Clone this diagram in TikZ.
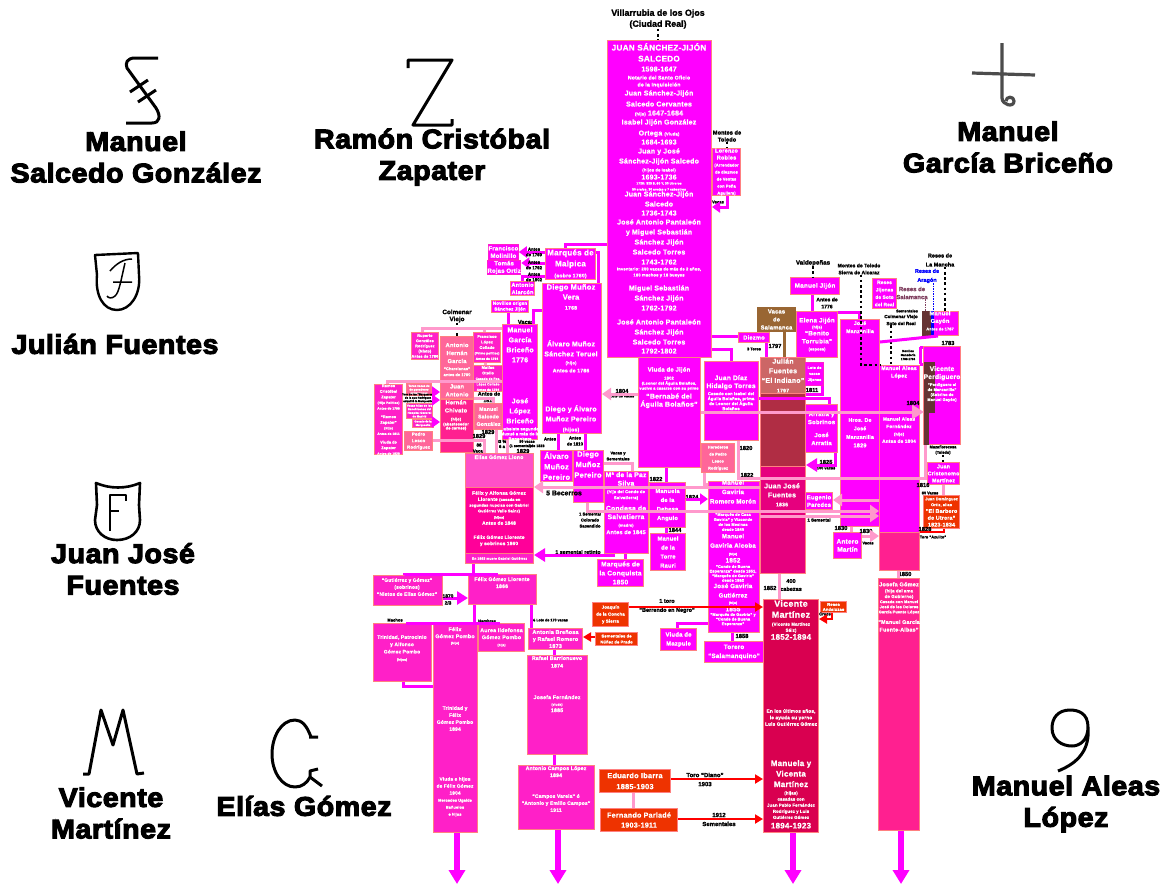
\documentclass[tikz,border=0pt]{standalone}
\usepackage{fontspec}
\setmainfont{Liberation Sans}
\newfontfamily\boxfam{Liberation Sans Bold}[Ligatures=TeX,LetterSpace=3,FakeBold=0.8]
\newfontfamily\notefam{Liberation Sans Bold}[Ligatures=TeX,FakeBold=1.5,Scale=1.15]
\newfontfamily\blackfam{Liberation Sans Bold}[Ligatures=TeX,FakeBold=4,FakeStretch=1.06,LetterSpace=2]
\usetikzlibrary{arrows.meta}
\definecolor{fame}{HTML}{FF00FF}
\definecolor{edgecol}{HTML}{FF8080}
\definecolor{rosa}{HTML}{FF99CC}
\definecolor{salmon}{HTML}{FF6699}
\definecolor{deep}{HTML}{FF20C8}
\definecolor{felix}{HTML}{FF0099}
\definecolor{elias}{HTML}{FF50C8}
\definecolor{fuentes}{HTML}{E6007E}
\definecolor{vicente}{HTML}{D90050}
\definecolor{josefa}{HTML}{FF2090}
\definecolor{brasa}{HTML}{EE3300}
\definecolor{vaca}{HTML}{996633}
\definecolor{julian}{HTML}{CC6666}
\definecolor{granate}{HTML}{B02D44}
\definecolor{oscuro}{HTML}{663333}
\definecolor{salam}{HTML}{804060}
\newcommand{\fa}{\fontsize{8.2}{10}\selectfont}
\newcommand{\fb}{\fontsize{7}{10}\selectfont}
\newcommand{\fc}{\fontsize{5.2}{10}\selectfont}
\newcommand{\fd}{\fontsize{4.2}{10}\selectfont}
\newcommand{\ff}{\fontsize{3.9}{10}\selectfont}
\newcommand{\fe}{\fontsize{3.2}{10}\selectfont}
\begin{document}
\begin{tikzpicture}[
        x=1pt, y=-1pt,
        wh/.style 2 args={minimum width=#1pt, minimum height=#2pt},
        bbox/.style={rectangle, anchor=north west, draw=edgecol, line width=1pt, inner sep=0pt, align=center, text=white, font=\boxfam\fontsize{7}{10}\selectfont},
        mbox/.style={bbox, fill=fame},
        mmbox/.style={bbox, fill=fame, draw=deep},
        sbox/.style={bbox, fill=salmon},
        dbox/.style={bbox, fill=deep},
        rbox/.style={bbox, fill=brasa},
        lab/.style={anchor=north, inner sep=0pt, align=center, text=white, font=\boxfam\fontsize{7}{10}\selectfont},
        note/.style={inner sep=0pt, align=center, text=black, font=\notefam\fontsize{5}{7}\selectfont},
        big/.style={inner sep=0pt, align=center, text=black, font=\blackfam\fontsize{27}{31.5}\selectfont},
        brand/.style={draw=black, line width=3pt, line join=round},
        fameline/.style={draw=fame, line width=3pt},
        rosaline/.style={draw=rosa, line width=3pt},
        famearrow/.style={fameline, -{Triangle[length=8pt,width=11pt]}},
        rosaarrow/.style={rosaline, -{Triangle[length=9pt,width=12pt]}},
        redarrow/.style={draw=red, line width=2.4pt, -{Triangle[length=8pt,width=9pt]}},
        bigarrow/.style={draw=fame, line width=6.5pt, -{Triangle[length=14pt,width=16pt]}},
        dotline/.style={draw=black, line width=2.6pt, dash pattern=on 2.6pt off 2.6pt},
    ]
    \path[fill=white, use as bounding box] (0,0) rectangle (1169,884);

    \node[big] (NameSalcedo) at (136,157) {Manuel\\Salcedo González};
    \node[big] (NameZapater) at (432,157) {Ramón Cristóbal\\Zapater};
    \node[big] (NameBriceno) at (1008,147) {Manuel\\García Briceño};
    \node[big] (NameJulian) at (115,344) {Julián Fuentes};
    \node[big] (NameJuanJose) at (123,569) {Juan José\\Fuentes};
    \node[big] (NameVicente) at (111,813) {Vicente\\Martínez};
    \node[big] (NameElias) at (304,806) {Elías Gómez};
    \node[big] (NameAleas) at (1066,804) {Manuel Aleas\\López};

    \draw[brand] (158,58) -- (135,58) .. controls (127,58) and (125,63) .. (127,68) -- (156,108) .. controls (161,116) and (160,123) .. (152,123) -- (126,123);
    \draw[brand] (130,92) -- (148,80) (138,102) -- (156,90);
    \draw[brand] (408,68) -- (408,60) -- (452,60) -- (413,125) -- (452,125) -- (452,119);
    \draw[brand, draw=black!70, line width=3.2pt] (972,73) -- (1035,75) (1002,43) -- (1002,98) .. controls (1002,105) and (1014,108) .. (1014,101) .. controls (1014,96) and (1006,96) .. (1006,101);
    \draw[brand, line width=2.4pt] (95,255) -- (138,253) -- (139,275) .. controls (141,295) and (130,310) .. (117,310) .. controls (103,310) and (95,295) .. (97,275) -- cycle;
    \draw[draw=black, line width=1.5pt] (110,271) .. controls (116,264) and (123,259) .. (132,259) (125,263) .. controls (121,280) and (119,293) .. (115,296) .. controls (112,299) and (108,298) .. (107,296) (113,282) -- (132,282);
    \draw[brand, line width=2.6pt] (96,483) .. controls (110,489) and (126,489) .. (140,483) -- (139,505) -- (140,520) .. controls (140,532) and (130,540) .. (117,540) .. controls (105,540) and (95,532) .. (95,520) -- (97,505) -- cycle;
    \draw[brand, line width=2pt] (110,531) -- (110,495) -- (126,495) -- (126,501) (110,511) -- (119,511);
    \draw[brand] (83,774) -- (89,774) -- (101,710) -- (113,745) -- (123,710) -- (137,774) -- (144,773);
    \draw[brand] (318,737) -- (309,737) (311,737) .. controls (307,726) and (302,720) .. (295,720) .. controls (281,720) and (272,737) .. (272,754) .. controls (272,772) and (282,787) .. (295,787) .. controls (302,787) and (307,783) .. (310,777) -- (322,786) (310,777) -- (310,771) -- (318,769);
    \draw[brand] (1088,727) .. controls (1088,713) and (1078,710) .. (1070,710) .. controls (1058,710) and (1052,718) .. (1052,728) .. controls (1052,740) and (1062,746) .. (1072,746) .. controls (1080,746) and (1088,740) .. (1088,727) .. controls (1090,750) and (1078,763) .. (1058,771);

    \node[mbox, wh={104}{317}] (JuanSanchez) at (607,40) {};
    \node[lab] (JuanSanchezText) at (659,43) {{\fa JUAN SÁNCHEZ-JIJÓN}\\[1pt]{\fa SALCEDO}\\{\fb 1598-1647}\\[-2pt]{\fc Notario del Santo Oficio}\\[-3pt]{\fc de la Inquisición}\\[-1pt]Juan Sánchez-Jijón\\[1pt]Salcedo Cervantes\\[-1pt]{\fd (hijo)} 1647-1684\\[-1pt]Isabel Jijón González\\[1pt]Ortega {\fd (Viuda)}\\[-1pt]1684-1693\\[-1pt]Juan y José\\Sánchez-Jijón Salcedo\\[-2pt]{\fd (hijos de Isabel)}\\[-2pt]1693-1736\\[-5pt]{\fe 1726: 323 \$, 60 Y, 30 Utreros}\\[-4pt]{\fe 30 erales, 30 anejas y 7 cabestros}\\[-4pt]Juan Sánchez-Jijón\\Salcedo\\[-1pt]1736-1743\\[-1pt]José Antonio Pantaleón\\y Miguel Sebastián\\Sánchez Jijón\\Salcedo Torres\\1743-1762\\[-4pt]{\fd Inventario: 200 vacas de más de 2 años,}\\[-4pt]{\fd 160 machos y 16 bueyes}\\[4pt]Miguel Sebastián\\Sánchez Jijón\\1762-1792\\[4pt]José Antonio Pantaleón\\Sánchez Jijón\\Salcedo Torres\\[-1pt]1792-1802};
    \node[note, font=\notefam\fontsize{7.7}{11}\selectfont] (Villarrubia) at (658,19) {Villarrubia de los Ojos\\(Ciudad Real)};
    \node[mbox, wh={28}{47}, font=\boxfam\fontsize{4}{7}\selectfont] (Lorenzo) at (712,148) {{\fontsize{5.6}{7}\selectfont Lorenzo}\\{\fontsize{5.6}{7}\selectfont Robles}\\(Arrendador\\de diezmos\\de Ventas\\con Peña\\Aguilera)};
    \node[note] (Montes) at (727,136) {Montes de\\Toledo};
    \node[note, font=\notefam\fontsize{3.6}{5}\selectfont] (LorenzoVacas) at (718,202) {Vacas};

    \node[mbox, wh={50}{31}, font=\boxfam\fontsize{8}{11}\selectfont] (Malpica) at (545,248) {Marqués de\\Malpica\\{\fc (sobre 1760)}};
    \node[mmbox, wh={29}{15}, font=\boxfam\fontsize{6}{7.4}\selectfont] (Molinillo) at (488,244) {Francisco\\Molinillo};
    \node[mmbox, wh={31}{14}, font=\boxfam\fontsize{6}{7.4}\selectfont] (Tomas) at (487,260) {Tomás\\Rojas Ortiz};
    \node[mbox, wh={24}{14}, font=\boxfam\fontsize{5.6}{7.4}\selectfont] (Alarcon) at (510,281) {Antonio\\Alarcón};
    \node[mbox, wh={37}{12}, font=\boxfam\fontsize{4.5}{5.8}\selectfont] (Novillos) at (491,300) {Novillos origen\\Sánchez Jijón};

    \node[mbox, wh={59}{150}] (DiegoVera) at (542,283) {};
    \node[lab, font=\boxfam\fontsize{7.5}{10}\selectfont] (DiegoVeraText) at (571,284) {Diego Muñoz\\Vera\\{\fc 1768}};
    \node[lab] (AlvaroText) at (571,340) {Álvaro Muñoz\\Sánchez Teruel\\[-2pt]{\fd (hijo)}\\[-2pt]{\fc Antes de 1786}};
    \node[lab] (DiegoAlvaroText) at (571,405) {Diego y Álvaro\\Muñoz Pereiro\\{\fc (hijos)}};
    \node[note] (VacasManuel) at (526,322) {Vacas};
    \node[mbox, wh={35}{115}] (ManuelGarcia) at (502,324) {};
    \node[lab] (ManuelGarciaText) at (520,327) {Manuel\\García\\Briceño\\1776};
    \node[lab] (JoseLopezText) at (520,398) {José\\López\\Briceño\\[-3pt]{\fd (subsiste segundo)}\\[-5pt]{\fd Muxué a más de la}\\[-5pt]{\fd Bonanbera}};
    \node[note, font=\notefam\fontsize{5.5}{7}\selectfont] (Colmenar) at (457,316) {Colmenar\\Viejo};

    \node[dbox, wh={26}{27}, font=\boxfam\fontsize{3.8}{5.2}\selectfont] (Ruperto) at (411,332) {Ruperto\\Gonzáles\\Rodríguez\\(Nieto)\\Antes de 1780};
    \node[sbox, wh={33}{46}, font=\boxfam\fontsize{5.8}{8}\selectfont] (Antonio) at (440,336) {Antonio\\Hernán\\García\\[-1pt]{\ff ``Charelanas''}\\[-2pt]{\ff antes de 1790}};
    \node[sbox, wh={33}{16}, font=\boxfam\fontsize{5.8}{8}\selectfont] (JuanAntonio) at (440,382) {Juan\\Antonio};
    \node[bbox, fill=josefa, wh={33}{53}] (Chivato) at (440,399) {};
    \node[lab, font=\boxfam\fontsize{5.8}{8}\selectfont] (ChivatoText) at (456,400) {Hernán\\Chivato\\{\ff (hijo)}\\[-3pt]{\ff (abastecedor}\\[-4pt]{\ff de carnes)}};
    \node[dbox, wh={27}{30}, font=\boxfam\fontsize{3.9}{5.5}\selectfont] (Francisco) at (473,332) {Francisco\\López\\Collado\\{\fe (Primo político)}\\{\fe Antes de 1794}};
    \node[dbox, wh={29}{26}, font=\boxfam\fontsize{3.9}{5.5}\selectfont] (Matias) at (473,365) {Matías\\Otello\\{\fe Casado de Fco.}\\{\fe López Collado}\\{\fe Antes de 1794}};
    \node[sbox, wh={28}{26}, font=\boxfam\fontsize{5.2}{7.5}\selectfont] (Salcedo) at (474,403) {Manuel\\Salcedo\\González};
    \node[dbox, wh={28}{66}, font=\boxfam\fontsize{3.8}{5.6}\selectfont] (Ramos) at (374,384) {Ramos\\Cristóbal\\Zapater\\{\fe (Hijo Político)}\\{\fe Antes de 1795}\\[3pt]``Ramos\\Zapater''\\{\fe (Hijo)}\\{\fe Antes de 1811}\\[3pt]Viuda de\\Zapater\\{\fe Antes de 1826}};
    \node[sbox, wh={25}{12}, font=\boxfam\fontsize{2.8}{3.6}\selectfont] (Toros) at (406,383) {Toros vacas de\\de ganaderos\\salmantinos};
    \node[note, font=\notefam\fontsize{2.4}{3.4}\selectfont] (Barqueros) at (418,398) {Toro de los ``Barqueros''\\de la que Rodríguez\\adquirió la Marquesita};
    \node[dbox, wh={26}{15}, font=\boxfam\fontsize{2.8}{3.6}\selectfont] (Hijos) at (406,403) {Vacas hijas de los\\Sanchicones del\\Hospital General\\de Madrid};
    \node[dbox, wh={21}{8}, font=\boxfam\fontsize{2.6}{3.6}\selectfont] (Marquesa) at (412,419) {Ganado de la\\Marquesita};
    \node[sbox, wh={28}{19}, font=\boxfam\fontsize{4.5}{6.5}\selectfont] (PedroLesco) at (404,431) {Pedro\\Lesco\\Rodríguez};
    \node[note, font=\notefam\fontsize{4.6}{6.5}\selectfont] (Antes1811) at (489,397) {Antes de\\1811};
    \node[note] (Y1829a) at (488,432) {1829};
    \node[note] (Y1829b) at (479,436) {1829};
    \node[note, font=\notefam\fontsize{3.8}{6}\selectfont] (Vacas88) at (479,448) {88\\Vacas};
    \node[note, font=\notefam\fontsize{3.8}{5}\selectfont] (Tercio) at (502,444) {33 \%,\\6 a};
    \node[note, font=\notefam\fontsize{3.2}{4.4}\selectfont] (Vacas50) at (527,444) {50 vacas\\(1 semental)de 1823};
    \node[note] (Y1829c) at (523,451) {1829};
    \node[note, font=\notefam\fontsize{3.8}{5.5}\selectfont] (AntesA) at (550,439) {Antes};
    \node[note, font=\notefam\fontsize{3.8}{6}\selectfont] (AntesB) at (575,441) {Antes\\de 1810};

    \node[mbox, wh={32}{31}, font=\boxfam\fontsize{7.5}{10.5}\selectfont] (AlvaroPereiro) at (540,450) {Álvaro\\Muñoz\\Pereiro};
    \node[mbox, wh={30}{52}] (DiegoPereiro) at (573,450) {};
    \node[lab, font=\boxfam\fontsize{7.5}{10.5}\selectfont] (DiegoPereiroText) at (588,451) {Diego\\Muñoz\\Pereiro};
    \node[bbox, fill=elias, wh={68}{34}] (Elias) at (465,453) {};
    \node[lab, font=\boxfam\fontsize{5.2}{6}\selectfont] (EliasText) at (499,455) {Elías Gómez Llono};
    \node[bbox, fill=felix, wh={68}{66}] (FelixAlfonsa) at (465,487) {};
    \node[lab, font=\boxfam\fontsize{4.8}{6.2}\selectfont] (FelixAlfonsaText) at (499,491) {Félix y Alfonsa Gómez\\Llorente {\ff (casada en}\\[-.5pt]{\ff segundas nupcias con Gabriel}\\[-.5pt]{\ff Gutiérrez Valle Sainz)}\\{\fe (hijos)}\\Antes de 1848\\[8pt]Félix Gómez Llorente\\y sobrinos 1860};
    \node[dbox, fill=deep, wh={68}{10}, font=\boxfam\fontsize{3.4}{4}\selectfont] (Muere) at (465,553) {En 1865 muere Gabriel Gutiérrez};
    \node[mbox, wh={44}{82}] (PazSilva) at (604,471) {};
    \node[lab, font=\boxfam\fontsize{6.8}{8.5}\selectfont] (PazSilvaText) at (626,472) {Mª de la Paz\\Silva\\[-1pt]{\fd (hija del Conde de}\\[-2.5pt]{\fd Salvatierra)}\\[3pt]Condesa de\\Salvatierra\\[-1pt]{\ff (madre)}\\[-1pt]{\fontsize{5.6}{10}\selectfont Antes de 1845}};
    \node[note, font=\notefam\fontsize{3.6}{6}\selectfont] (VacasSementales) at (618,456) {Vacas y\\Sementales};
    \node[note, font=\notefam\fontsize{3.6}{6}\selectfont] (Colorado) at (590,520) {1 Semental\\Colorado\\Sacendido};
    \node[note, font=\notefam\fontsize{4.6}{6}\selectfont] (Retinto) at (578,552) {1 semental retinto};
    \node[note, font=\notefam\fontsize{6}{8}\selectfont] (Becerros) at (564,493) {5 Becerros};
    \node[mbox, wh={46}{27}, font=\boxfam\fontsize{6.7}{9}\selectfont] (Conquista) at (597,559) {Marqués de\\la Conquista\\1850};

    \node[mbox, wh={62}{110}] (ViudaJijon) at (638,357) {};
    \node[lab, font=\boxfam\fontsize{6}{8}\selectfont] (ViudaJijonText) at (669,367) {Viuda de Jijón\\{\fd 1802}\\[-3pt]{\ff (Leonor del Águila Bolaños,}\\[-3pt]{\ff vuelve a casarse con su primo}\\[1pt]{\fb ``Bernabé del}\\{\fb Águila Bolaños''}};
    \node[note] (Y1804) at (622,391) {1804};
    \node[note, font=\notefam\fontsize{3.2}{4}\selectfont] (LoteVacas) at (622,396) {Lote de vacas};
    \node[mbox, wh={54}{79}] (JuanDiaz) at (704,361) {};
    \node[lab, font=\boxfam\fontsize{6.7}{8}\selectfont] (JuanDiazText) at (731,375) {Juan Díaz\\Hidalgo Torres\\[-1pt]{\fontsize{4.2}{5}\selectfont Casado con Isabel del}\\[-3pt]{\fontsize{4.2}{5}\selectfont Águila Bolaños, prima}\\[-3pt]{\fontsize{4.2}{5}\selectfont de Leonor del Águila}\\[-3pt]{\fontsize{4.2}{5}\selectfont Bolaños}};
    \node[sbox, wh={33}{29}, font=\boxfam\fontsize{3.9}{7}\selectfont] (Herederos) at (701,443) {Herederos\\de Pedro\\Lesco\\Rodríguez};
    \node[note] (Y1820) at (746,448) {1820};
    \node[mbox, wh={31}{10}, font=\boxfam\fontsize{5.8}{8}\selectfont] (Diezmo) at (738,332) {Diezmo};
    \node[note, font=\notefam\fontsize{3.4}{5}\selectfont] (Toros3) at (754,349) {3 Toros};
    \node[note] (Y1797) at (775,346) {1797};
    \node[bbox, fill=vaca, wh={38}{24}, font=\boxfam\fontsize{5.8}{8}\selectfont, draw=vaca] (VacasSalamanca) at (757,307) {Vacas\\de\\Salamanca};
    \node[bbox, fill=julian, wh={45}{36}, font=\boxfam\fontsize{7}{9.6}\selectfont] (JulianFuentes) at (760,357) {Julián\\Fuentes\\``El Indiano''\\{\fc 1797}};
    \node[bbox, fill=granate, wh={45}{73}] (Granate) at (760,393) {};
    \node[bbox, fill=fuentes, wh={45}{107}] (JuanJose) at (760,466) {};
    \node[lab, font=\boxfam\fontsize{7}{9}\selectfont] (JuanJoseText) at (782,483) {Juan José\\Fuentes\\{\fc 1836}};

    \node[mbox, wh={49}{17}, font=\boxfam\fontsize{6.4}{8}\selectfont] (ManuelJijon) at (790,277) {Manuel Jijón};
    \node[note, font=\notefam\fontsize{4.4}{7}\selectfont] (Antes1776) at (827,303) {Antes de\\1776};
    \node[note, font=\notefam\fontsize{5.4}{7}\selectfont] (Valdepenas) at (813,263) {Valdepeñas};
    \node[mbox, wh={41}{46}, font=\boxfam\fontsize{6.4}{8}\selectfont] (Elena) at (796,311) {Elena Jijón\\[-2pt]{\ff (hija)}\\[-1pt]``Benito\\Torrubia''\\[-1pt]{\ff (esposa)}};
    \node[mmbox, wh={18}{23}, font=\boxfam\fontsize{3.7}{6}\selectfont] (LoteJijones) at (805,362) {Lote de\\vacas\\Jijones};
    \node[note] (Y1811) at (812,390) {1811};
    \node[mbox, wh={32}{48}, font=\boxfam\fontsize{6}{8}\selectfont] (Arratia) at (805,404) {Arratia y\\Sobrinos\\[5pt]José\\Arratia};
    \node[note] (Y1825) at (826,462) {1825};
    \node[note, font=\notefam\fontsize{3.4}{5}\selectfont] (Vacas100) at (826,468) {100 vacas};
    \node[note, font=\notefam\fontsize{4.4}{7}\selectfont] (Sierra) at (859,269) {Montes de Toledo\\Sierra de Alcaraz};

    \node[mbox, wh={39}{207}] (Manzanilla) at (840,319) {};
    \node[lab, font=\boxfam\fontsize{5.2}{8}\selectfont] (ManzanillaText) at (860,321) {José\\Manzanilla};
    \node[lab, font=\boxfam\fontsize{5.2}{8.5}\selectfont] (HrosText) at (860,418) {Hros. De\\José\\Manzanilla\\{\fontsize{5.6}{8}\selectfont 1829}};
    \node[mbox, wh={24}{30}, font=\boxfam\fontsize{4.8}{7.4}\selectfont] (ResesSoto) at (872,278) {Reses\\Jijonas\\de Soto\\del Real};
    \node[mbox, wh={40}{167}] (AleasLopez) at (879,365) {};
    \node[lab, font=\boxfam\fontsize{5.3}{7.5}\selectfont] (AleasLopezText) at (899,366) {Manuel Aleas\\López};
    \node[lab, font=\boxfam\fontsize{4.8}{7.4}\selectfont] (AleasFernandezText) at (899,417) {Manuel Aleas\\Fernández\\{\ff (hijo)}\\Antes de 1804};
    \node[bbox, fill=josefa, wh={40}{38}] (AleasPink) at (879,532) {};
    \node[bbox, fill=josefa, wh={41}{252}] (Josefa) at (878,578) {};
    \node[lab, font=\boxfam\fontsize{4.4}{5.6}\selectfont] (JosefaText) at (899,582) {{\fontsize{5.6}{6}\selectfont Josefa Gómez}\\[.5pt](hija del ama\\de Gobierno)\\[-.5pt]{\fontsize{3.9}{6}\selectfont Casada con Manuel}\\[-.5pt]{\fontsize{3.9}{6}\selectfont José de los Dolores}\\[-.5pt]{\fontsize{3.9}{6}\selectfont García Puente López}\\[5pt]{\fontsize{5.4}{6}\selectfont ``Manuel García}\\[2pt]{\fontsize{5.4}{6}\selectfont Fuente-Albas''}};
    \node[note] (Y1850) at (905,574) {1850};
    \node[mbox, wh={37}{98}] (Perdiguero) at (923,346) {};
    \node[bbox, fill=oscuro, draw=oscuro, wh={10}{50}] (Oscuro) at (924,362) {};
    \node[bbox, fill=oscuro, draw=oscuro, wh={4}{32}] (OscuroBajo) at (924,412) {};
    \node[lab, font=\boxfam\fontsize{6.6}{8}\selectfont] (PerdigueroText) at (942,366) {Vicente\\Perdiguero\\[-1pt]{\fontsize{3.9}{5}\selectfont ``Perdiguero el}\\[-3pt]{\fontsize{3.9}{5}\selectfont de Manzanilla''}\\[-3pt]{\fontsize{3.9}{5}\selectfont (Sobrino de}\\[-3pt]{\fontsize{3.9}{5}\selectfont Manuel Gayón)}};
    \node[mbox, wh={36}{24}] (Gayon) at (922,311) {};
    \node[bbox, fill=oscuro, draw=oscuro, wh={10}{25}] (GayonOscuro) at (922,311) {};
    \node[inner sep=0pt, fill=blue, minimum width=3pt, minimum height=25pt, anchor=north west] (GayonAzul) at (931,311) {};
    \node[lab, font=\boxfam\fontsize{5.8}{7.5}\selectfont] (GayonText) at (940,311) {Manuel\\Gayón\\{\ff Antes de 1787}};
    \node[note, text=blue, font=\notefam\fontsize{4.8}{9}\selectfont] (Aragon) at (927,276) {Reses de\\Aragón};
    \node[note, text=salam, font=\notefam\fontsize{5.2}{8}\selectfont] (Salamanca) at (912,293) {Reses de\\Salamanca};
    \node[note, font=\notefam\fontsize{4.8}{9}\selectfont] (Mancha) at (940,260) {Reses de\\La Mancha};
    \node[note, font=\notefam\fontsize{3.4}{5}\selectfont] (Sementales) at (907,311) {Sementales};
    \node[note, font=\notefam\fontsize{4}{7}\selectfont] (Soto) at (901,320) {Colmenar Viejo\\Soto del Real};
    \node[note, font=\notefam\fontsize{2.6}{4}\selectfont] (Ganaderia) at (908,355) {Novillos\\Ganadería\\1783-1784};
    \node[note] (Y1783) at (948,343) {1783};
    \node[note] (Y1804b) at (913,403) {1804};
    \node[note, font=\notefam\fontsize{3.4}{5.4}\selectfont] (Toledo) at (943,450) {Mazaflorecesa\\(Toledo)};
    \node[mbox, wh={32}{22}, font=\boxfam\fontsize{5.4}{7}\selectfont] (Cristonomo) at (927,462) {Juan\\Cristonomo\\Martínez};
    \node[note] (Y1816) at (923,485) {1816};
    \node[note, font=\notefam\fontsize{3.4}{5}\selectfont] (Vacas60) at (930,493) {60 Vacas};
    \node[rbox, wh={36}{33}, font=\boxfam\fontsize{5.4}{6.8}\selectfont] (Barbero) at (923,495) {{\fontsize{3.9}{5}\selectfont Juan Domínguez}\\[-1pt]{\fontsize{3.9}{5}\selectfont Ortiz, alias}\\``El Barbero\\de Utrera''\\1823-1834};
    \node[note] (Y1828) at (925,529) {1828};
    \node[note, font=\notefam\fontsize{3.4}{5}\selectfont] (Azulito) at (933,537) {Toro ``Azulito''};

    \node[mbox, wh={27}{17}, font=\boxfam\fontsize{5.9}{7.5}\selectfont] (Eugenio) at (805,492) {Eugenio\\Paredes};
    \node[note, font=\notefam\fontsize{3.8}{5}\selectfont] (Semental1) at (819,520) {1 Semental};
    \node[mbox, wh={28}{26}, font=\boxfam\fontsize{6.5}{8}\selectfont] (Antero) at (833,532) {Antero\\Martín};
    \node[note] (Y1830a) at (841,528) {1830};
    \node[note] (Y1830b) at (866,531) {1830};
    \node[note, font=\notefam\fontsize{3.4}{5}\selectfont] (VacasAntero) at (868,543) {Vacas};

    \node[mbox, wh={36}{45}, font=\boxfam\fontsize{5.8}{9}\selectfont] (Dehesa) at (649,482) {Manuela\\de la\\Dehesa\\Angulo};
    \node[note] (Y1822a) at (656,479) {1822};
    \node[note] (Y1822b) at (747,475) {1822};
    \node[note] (Y1824) at (692,497) {1824};
    \node[mbox, wh={35}{37}, font=\boxfam\fontsize{5.8}{9}\selectfont] (TorreRauri) at (650,533) {Manuel\\de la\\Torre\\Rauri};
    \node[note] (Y1844) at (675,530) {1844};

    \node[mbox, wh={51}{151}] (Gaviria) at (708,481) {};
    \node[lab, font=\boxfam\fontsize{6.2}{9.4}\selectfont] (GaviriaText) at (733,480) {Manuel\\Gaviria\\Romero Morón\\[3pt]{\fontsize{3.9}{5}\selectfont ``Marqués de Casa}\\[-4.4pt]{\fontsize{3.9}{5}\selectfont Gaviria'' y Vizconde}\\[-4.4pt]{\fontsize{3.9}{5}\selectfont de los Mesinas}\\[-4.4pt]{\fontsize{3.9}{5}\selectfont desde 1840}\\[-2pt]Manuel\\Gaviria Alcoba\\[-2pt]{\fe (hijo)}\\[-2pt]{\fontsize{6.4}{8}\selectfont 1852}\\[-4pt]{\fontsize{3.9}{5}\selectfont ``Conde de Buena}\\[-4.8pt]{\fontsize{3.9}{5}\selectfont Esperanza'' desde 1851,}\\[-4.8pt]{\fontsize{3.9}{5}\selectfont ``Marqués de Gaviria''}\\[-4.8pt]{\fontsize{3.9}{5}\selectfont desde 1852}\\[-3pt]José Gaviria\\Gutiérrez\\[-3pt]{\fe (hijo)}\\[-2pt]{\fontsize{6.4}{8}\selectfont 1855}\\[-4.8pt]{\fontsize{3.9}{5}\selectfont ``Marqués de Gaviria'' y}\\[-4.8pt]{\fontsize{3.9}{5}\selectfont ``Conde de Buena}\\[-4.8pt]{\fontsize{3.9}{5}\selectfont Esperanza''}};
    \node[mbox, wh={59}{21}, font=\boxfam\fontsize{6.3}{9}\selectfont] (Torero) at (704,641) {Torero\\``Salamanquino''};
    \node[note] (Y1858) at (742,636) {1858};
    \node[mbox, wh={36}{22}, font=\boxfam\fontsize{6}{9}\selectfont] (Mazpule) at (660,628) {Viuda de\\Mazpule};
    \node[rbox, wh={36}{24}, font=\boxfam\fontsize{4.4}{7}\selectfont] (Joaquin) at (592,602) {Joaquín\\de la Concha\\y Sierra};
    \node[rbox, wh={42}{13}, font=\boxfam\fontsize{4.1}{6}\selectfont] (NunezPrado) at (595,632) {Sementales de\\Núñez de Prado};
    \node[note, font=\notefam\fontsize{4.8}{9}\selectfont] (ToroBerrendo) at (667,606) {1 toro\\``Berrendo en Negro''};

    \node[bbox, fill=vicente, wh={55}{233}] (VicenteMartinez) at (763,599) {};
    \node[lab, font=\boxfam\fontsize{9}{11}\selectfont] (VicenteText) at (791,600) {Vicente\\Martínez\\[-3pt]{\fontsize{4.4}{10}\selectfont (Vicente Martínez}\\[-5pt]{\fontsize{4.4}{10}\selectfont Sáiz)}\\[-3pt]{\fontsize{8}{10}\selectfont 1852-1894}};
    \node[lab, font=\boxfam\fontsize{4.8}{6.5}\selectfont] (UltimosText) at (791,709) {En los últimos años,\\le ayuda su yerno\\Luis Gutiérrez Gómez};
    \node[lab, font=\boxfam\fontsize{8}{10.5}\selectfont] (ManuelaText) at (791,760) {Manuela y\\Vicenta\\Martínez\\[-3pt]{\fontsize{4.3}{6}\selectfont (hijas)}\\[-4.4pt]{\fontsize{4.3}{6}\selectfont casadas con}\\[-4.4pt]{\fontsize{4.3}{6}\selectfont Juan Pablo Fernández}\\[-4.4pt]{\fontsize{4.3}{6}\selectfont Rodríguez y Luis}\\[-4.4pt]{\fontsize{4.3}{6}\selectfont Gutiérrez Gómez}\\[-1pt]1894-1923};
    \node[note] (Y1852) at (770,588) {1852};
    \node[note, font=\notefam\fontsize{4.8}{8}\selectfont] (Cabezas) at (791,585) {400\\cabezas};
    \node[rbox, wh={26}{11}, font=\boxfam\fontsize{4.1}{5}\selectfont] (Andaluzas) at (820,601) {Reses\\Andaluzas};
    \node[note, font=\notefam\fontsize{3.6}{5}\selectfont] (Cruce) at (825,614) {Cruce};

    \node[dbox, wh={69}{30}] (Gutierrez) at (373,575) {};
    \node[lab, font=\boxfam\fontsize{4.9}{7}\selectfont] (GutierrezText) at (407,578) {``Gutiérrez y Gómez''\\(sobrinos)\\``Nietos de Elías Gómez''};
    \node[dbox, wh={68}{30}] (FelixLlorente) at (468,574) {};
    \node[lab, font=\boxfam\fontsize{5.2}{7}\selectfont] (FelixLlorenteText) at (502,577) {Félix Gómez Llorente\\1866};
    \node[note, font=\notefam\fontsize{3.6}{5}\selectfont] (Machos) at (395,620) {Machos};
    \node[note, font=\notefam\fontsize{3.6}{5}\selectfont] (Hembras) at (487,621) {Hembras};
    \node[note, font=\notefam\fontsize{3.2}{5}\selectfont] (Lote170) at (550,620) {⅓ Lote de 170 vacas};
    \node[dbox, wh={58}{58}] (Trinidad) at (373,623) {};
    \node[lab, font=\boxfam\fontsize{5}{7.3}\selectfont] (TrinidadHijos) at (402,635) {Trinidad, Patrocinio\\y Alfonso\\Gómez Pombo\\{\fe (hijos)}};
    \node[dbox, wh={44}{208}] (FelixPombo) at (433,624) {};
    \node[lab, font=\boxfam\fontsize{5.4}{7}\selectfont] (FelixPomboText) at (455,627) {Félix\\Gómez Pombo\\[-1pt]{\fe (hijo)}};
    \node[lab, font=\boxfam\fontsize{5}{7}\selectfont] (TrinidadText) at (455,706) {Trinidad y\\Félix\\Gómez Pombo\\1894};
    \node[lab, font=\boxfam\fontsize{4.8}{7}\selectfont] (ViudaFelixText) at (455,777) {Viuda e hijos\\de Félix Gómez\\1904\\{\fontsize{3.9}{7}\selectfont Mercedes Ugalde}\\{\fontsize{3.9}{7}\selectfont Bañuelos}\\{\fontsize{3.9}{7}\selectfont e hijos}};
    \node[dbox, wh={46}{28}, font=\boxfam\fontsize{5.4}{7}\selectfont] (Aurea) at (478,623) {Aurea Ildefonsa\\Gómez Pombo\\{\fe (hija)}};
    \node[dbox, wh={54}{21}, font=\boxfam\fontsize{5.5}{7}\selectfont] (Brenosa) at (528,628) {Antonia Breñosa\\y Rafael Romero\\1873};
    \node[dbox, wh={60}{99}] (Barrionuevo) at (527,655) {};
    \node[lab, font=\boxfam\fontsize{5.2}{7.6}\selectfont] (BarrionuevoText) at (557,656) {Rafael Barrionuevo\\1874};
    \node[lab, font=\boxfam\fontsize{5.3}{6.5}\selectfont] (FernandezText) at (557,695) {Josefa Fernández\\{\fe (viuda)}\\1885};
    \node[dbox, wh={76}{64}] (Campos) at (518,765) {};
    \node[lab, font=\boxfam\fontsize{5.2}{7}\selectfont] (CamposText) at (556,766) {Antonio Campos López\\1894};
    \node[lab, font=\boxfam\fontsize{5}{7}\selectfont] (CamposVarelaText) at (556,794) {``Campos Varela'' ó\\``Antonio y Emilio Campos''\\1911};
    \node[rbox, wh={71}{23}, font=\boxfam\fontsize{7.4}{11}\selectfont] (Ibarra) at (599,769) {Eduardo Ibarra\\1885-1903};
    \node[rbox, wh={77}{23}, font=\boxfam\fontsize{7.2}{10}\selectfont] (Parlade) at (600,808) {Fernando Parladé\\1903-1911};
    \node[note, font=\notefam\fontsize{5.2}{9}\selectfont] (Diano) at (705,779.5) {Toro ``Diano''\\1903};
    \node[note, font=\notefam\fontsize{5.2}{9}\selectfont] (Sementales1912) at (719,819.5) {1912\\Sementales};

    \coordinate (EndFelix) at (457,884);
    \coordinate (EndCampos) at (558,884);
    \coordinate (EndVicente) at (793,884);
    \coordinate (EndJosefa) at (901,884);

    \draw[dotline] (Villarrubia.south -| 658,0) -- (JuanSanchez.north -| 658,0);
    \draw[dotline] (Montes.south -| 727,0) -- (Lorenzo.north -| 727,0);
    \draw[famearrow] (Lorenzo.south -| 727,0) |- (JuanSanchez.east |- 0,207);
    \draw[fameline] (JuanSanchez.west |- 0,244) -| (Malpica.north -| 565,0);
    \draw[fameline] (Malpica.east |- 0,252) -| (DiegoVera.north -| 598,0);
    \draw[famearrow] (Malpica.west |- 0,252) -- (Molinillo.east |- 0,252);
    \draw[famearrow] (Malpica.west |- 0,263) -- (Tomas.east |- 0,263);
    \draw[fameline] (Malpica.west |- 0,276) -| (Alarcon.north -| 522,0);
    \draw[fameline] (Novillos.south -| 508,0) -- (ManuelGarcia.north -| 508,0);
    \draw[fameline] (DiegoVera.west |- 0,310) -| (ManuelGarcia.north -| 533,0);
    \draw[dotline] (Colmenar.south -| 457,0) -- (Antonio.north -| 457,0);
    \draw[rosaline] (ManuelGarcia.west |- 0,328) -| (Ruperto.north -| 422,0);
    \draw[rosaline] (Francisco.north -| 484,0) -- (ManuelGarcia.west |- 0,328 -| 484,0);
    \draw[rosaline] (Francisco.south -| 485,0) -- (Matias.north -| 485,0);
    \draw[rosaline] (ManuelGarcia.west |- 0,381) -| (Ramos.north -| 387,0);
    \draw[rosaline] (JuanAntonio.east |- 0,398) -| (Salcedo.north -| 493,0);
    \draw[famearrow] (Toros.east |- 0,392) -- (JuanAntonio.west |- 0,392);
    \draw[famearrow] (Barqueros.east |- 0,400) -- (Chivato.west |- 0,400);
    \draw[famearrow] (Marquesa.east |- 0,422) -- (Chivato.west |- 0,422);
    \draw[rosaline] (PedroLesco.east |- 0,440) -| (Elias.north -| 484,0);
    \draw[rosaline] (Salcedo.south -| 496,0) -- (Elias.north -| 496,0);
    \draw[rosaline] (ManuelGarcia.south -| 507,0) -- (Elias.north -| 507,0);
    \draw[fameline] (DiegoVera.south -| 558,0) -- (AlvaroPereiro.north -| 558,0);
    \draw[fameline] (DiegoVera.south -| 585,0) -- (DiegoPereiro.north -| 585,0);
    \draw[rosaline] (DiegoPereiro.east |- 0,463) -| (PazSilva.north -| 632,0);
    \draw[rosaarrow] (JuanJose.west |- 0,487) -- (FelixAlfonsa.east |- 0,487);
    \draw[rosaarrow] (DiegoPereiro.south -| 587,0) |- (AleasLopez.west |- 0,511);
    \draw[rosaarrow] (JuanJose.west |- 0,516) -- (AleasLopez.west |- 0,516);
    \draw[famearrow, -{Triangle[length=11pt,width=13pt]}] (PazSilva.south -| 613,0) |- (Muere.east |- 0,555);
    \draw[fameline] (PazSilva.south -| 625,0) -- (Conquista.north -| 625,0);
    \draw[rosaarrow] (ViudaJijon.west |- 0,394) -- (DiegoVera.east |- 0,394);
    \draw[fameline] (ViudaJijon.south -| 666,0) -- (Dehesa.north -| 666,0);
    \draw[fameline] (Dehesa.south -| 666,0) -- (TorreRauri.north -| 666,0);
    \draw[famearrow] (Dehesa.east |- 0,499) -- (Gaviria.west |- 0,499);
    \draw[fameline] (JuanSanchez.east |- 0,336) -- (Diezmo.west |- 0,336);
    \draw[fameline] (Diezmo.south -| 766,0) -- (JulianFuentes.north -| 766,0);
    \draw[fameline] (JuanSanchez.east |- 0,349) -| (JuanDiaz.north -| 731,0);
    \draw[draw=vaca, line width=3pt] (VacasSalamanca.south -| 784,0) -- (JulianFuentes.north -| 784,0);
    \draw[fameline] (JuanDiaz.east |- 0,398) -| (Arratia.north -| 829,0);
    \draw[rosaarrow, -{Triangle[length=12pt,width=14pt]}] (ViudaJijon.east |- 0,412) -- (Oscuro.west |- 0,412);
    \draw[rosaline] (JuanDiaz.south -| 738,0) |- (Cristonomo.west |- 0,478);
    \draw[rosaline] (Herederos.south -| 704,0) |- (Gaviria.west |- 0,484);
    \draw[rosaline] (Perdiguero.south -| 925,0) -- (Cristonomo.west |- 0,478 -| 925,0);
    \draw[fameline] (ManuelJijon.south -| 812,0) -- (Elena.north -| 812,0);
    \draw[dotline] (Valdepenas.south -| 813,0) -- (ManuelJijon.north -| 813,0);
    \draw[fameline] (Elena.east |- 0,312) -| (Manzanilla.north -| 859,0);
    \draw[fameline] (LoteJijones.south -| 822,0) |- (Granate.east |- 0,394);
    \draw[famearrow, -{Triangle[length=11pt,width=13pt]}] (Arratia.south -| 835,0) |- (JuanJose.east |- 0,465);
    \draw[dotline] (Sierra.south -| 861,0) |- (AleasLopez.north -| 880,315) -- (AleasLopez.north -| 880,0);
    \draw[dotline] (Soto.south -| 891,0) -- (AleasLopez.north -| 891,0);
    \draw[dotline] (Mancha.south -| 945,0) -- (Gayon.north -| 945,0);
    \draw[draw=blue, line width=1pt, dash pattern=on 1.5pt off 1pt] (Aragon.south -| 933,0) -- (Gayon.north -| 933,0);
    \draw[draw=salam, line width=1pt, dash pattern=on 1.5pt off 1pt] (Salamanca.south -| 925,0) -- (Gayon.north -| 925,0);
    \draw[fameline] (Manzanilla.east |- 0,342) -- (Gayon.south -| 938,0);
    \draw[fameline] (AleasLopez.east |- 0,347) -- (Perdiguero.west |- 0,347);
    \draw[fameline] (AleasLopez.east |- 0,364) -- (Perdiguero.west |- 0,364);
    \draw[fameline] (AleasLopez.east |- 0,347) -- (AleasLopez.east |- 0,364);
    \draw[dotline] (Toledo.south -| 943,0) -- (Cristonomo.north -| 943,0);
    \draw[rosaline] (Cristonomo.south -| 943,0) -- (Barbero.north -| 943,0);
    \draw[draw=red, line width=2.4pt] (Barbero.south -| 944,0) |- (AleasPink.east |- 0,532);
    \draw[rosaarrow] (AleasLopez.west |- 0,500) -- (Eugenio.east |- 0,500);
    \draw[rosaline] (Manzanilla.south -| 851,0) -- (Antero.north -| 851,0);
    \draw[rosaarrow] (Antero.east |- 0,536) -- (AleasPink.west |- 0,536);
    \draw[rosaline] (AleasPink.south -| 898,0) -- (Josefa.north -| 898,0);
    \draw[fameline] (Gaviria.south -| 732,0) -- (Torero.north -| 732,0);
    \draw[fameline] (Gaviria.west |- 0,623) -| (Mazpule.north -| 677,0);
    \draw[redarrow] (Joaquin.east |- 0,607) -- (VicenteMartinez.west |- 0,607);
    \draw[rosaline] (JuanJose.south -| 779,0) -- (VicenteMartinez.north -| 779,0);
    \draw[redarrow] (Andaluzas.south -| 832,0) |- (VicenteMartinez.east |- 0,619);
    \draw[fameline] (Muere.south -| 473,0) -- (Gutierrez.north -| 473,569);
    \draw[fameline] (Gutierrez.north -| 404,0) |- (FelixLlorente.north -| 498,569) -- (FelixLlorente.north -| 498,0);
    \draw[famearrow, -{Triangle[length=11pt,width=13pt]}] (Gutierrez.east |- 0,598) -- (FelixLlorente.west |- 0,598);
    \draw[fameline] (FelixLlorente.south -| 474,0) -- (Aurea.north -| 474,617);
    \draw[fameline] (Trinidad.north -| 406,0) |- (Aurea.north -| 500,617) -- (Aurea.north -| 500,0);
    \draw[fameline] (FelixPombo.north -| 454,0) -- (Aurea.north -| 454,617);
    \draw[fameline] (Trinidad.south -| 403,0) |- (FelixPombo.west |- 0,686);
    \draw[fameline] (FelixLlorente.south -| 531,0) -- (Brenosa.north -| 531,0);
    \draw[fameline] (Brenosa.south -| 554,0) -- (Barrionuevo.north -| 554,0);
    \draw[fameline] (Barrionuevo.south -| 554,0) -- (Campos.north -| 554,0);
    \draw[redarrow] (NunezPrado.west |- 0,637) -- (Brenosa.east |- 0,637);
    \draw[rosaline] (Ibarra.south -| 633,0) -- (Parlade.north -| 633,0);
    \draw[redarrow] (Ibarra.east |- 0,779) -- (VicenteMartinez.west |- 0,779);
    \draw[redarrow] (Parlade.east |- 0,819) -- (VicenteMartinez.west |- 0,819);
    \draw[bigarrow] (FelixPombo.south -| 457,0) -- (EndFelix);
    \draw[bigarrow] (Campos.south -| 558,0) -- (EndCampos);
    \draw[bigarrow] (VicenteMartinez.south -| 793,0) -- (EndVicente);
    \draw[bigarrow] (Josefa.south -| 901,0) -- (EndJosefa);

    \node[note, font=\notefam\fontsize{3.8}{5.5}\selectfont] (Antes1769) at (534,252) {Antes\\de 1769};
    \node[note, font=\notefam\fontsize{3.8}{5.5}\selectfont] (Antes1792) at (534,265) {Antes\\de 1792};
    \node[note, font=\notefam\fontsize{3.8}{5.5}\selectfont] (Antes1802) at (534,277) {Antes\\de 1802};
    \node[note, font=\notefam\fontsize{4.2}{7}\selectfont] (Y1870) at (448,599.5) {1870\\2/3};
\end{tikzpicture}
\end{document}
